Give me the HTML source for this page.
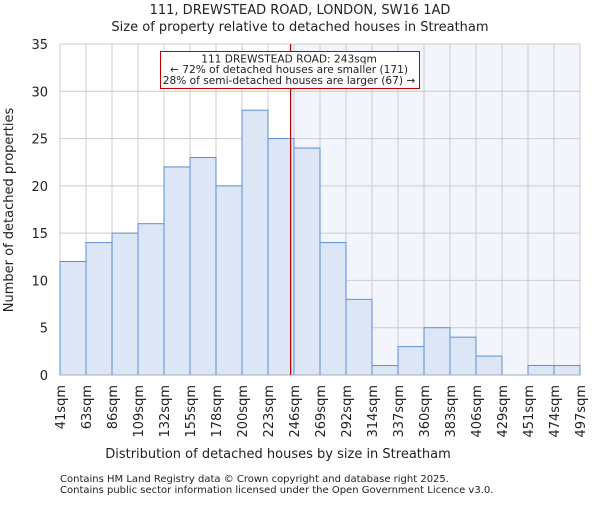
<!DOCTYPE html>
<html><head><meta charset="utf-8"><style>
body{margin:0;background:#fff;}
svg text{font-family:"DejaVu Sans","Liberation Sans",sans-serif;fill:#222;}
</style></head><body>
<svg id="chart" width="600" height="500">
<text x="300" y="14" text-anchor="middle" font-size="13">111, DREWSTEAD ROAD, LONDON, SW16 1AD</text>
<text x="300" y="31" text-anchor="middle" font-size="13">Size of property relative to detached houses in Streatham</text>
<g id="plot"></g>
<text x="278" y="458" text-anchor="middle" font-size="13">Distribution of detached houses by size in Streatham</text>
<text transform="translate(13,210) rotate(-90)" text-anchor="middle" font-size="13">Number of detached properties</text>
<text x="60" y="482" font-size="10" fill="#444">Contains HM Land Registry data © Crown copyright and database right 2025.</text>
<text x="60" y="493" font-size="10" fill="#444">Contains public sector information licensed under the Open Government Licence v3.0.</text>
</svg>
<script>
const labels=["41sqm","63sqm","86sqm","109sqm","132sqm","155sqm","178sqm","200sqm","223sqm","246sqm","269sqm","292sqm","314sqm","337sqm","360sqm","383sqm","406sqm","429sqm","451sqm","474sqm","497sqm"];
const counts=[12,14,15,16,22,23,20,28,25,24,14,8,1,3,5,4,2,0,1,1];
const yTicks=[0,5,10,15,20,25,30,35];
const propertyBin=8+20/23;
const L=60,R=580,T=44,B=375,ymax=35;
const bw=(R-L)/counts.length;
const xs=i=>L+i*bw;
const ys=v=>B-(v/ymax)*(B-T);
const g=document.getElementById('plot');
const NS="http://www.w3.org/2000/svg";
function mk(t,a){const e=document.createElementNS(NS,t);for(const k in a)e.setAttribute(k,a[k]);g.appendChild(e);return e;}
const px=xs(propertyBin);
let e=mk('rect',{x:px,y:T,width:R-px,height:B-T,fill:'#f2f5fc'});


for(const t of yTicks){
 e=mk('line',{x1:L,x2:R,y1:ys(t),y2:ys(t),stroke:'#ccc','stroke-width':1});
 
 
 e=mk('text',{x:L-12,y:ys(t)+5,'text-anchor':'end','font-size':13});
 e.textContent=t;
 
 
}
for(let i=0;i<labels.length;i++){
 e=mk('line',{x1:xs(i),x2:xs(i),y1:T,y2:B,stroke:'#ccc','stroke-width':1});
 
 
 const lx=xs(i)+5;
 e=mk('text',{transform:`translate(${lx},${B+10}) rotate(-90)`,'text-anchor':'end','font-size':13});
 e.textContent=labels[i];
 
 
}
counts.forEach((c,i)=>{
 if(c<=0)return;
 e=mk('rect',{x:xs(i),y:ys(c),width:bw,height:B-ys(c),fill:'#dde6f4',stroke:'#5b8fd6','stroke-width':1});
 
 
});
e=mk('line',{x1:L,x2:R,y1:B,y2:B,stroke:'#aab','stroke-width':1});


e=mk('line',{x1:px,x2:px,y1:T,y2:B,stroke:'#b00000','stroke-width':1.2});


e=mk('rect',{x:160.5,y:51.5,width:259,height:37,fill:'#fff',stroke:'#c00000','stroke-width':1});


const ann=["111 DREWSTEAD ROAD: 243sqm","← 72% of detached houses are smaller (171)","28% of semi-detached houses are larger (67) →"];
ann.forEach((s,i)=>{
 e=mk('text',{x:289,y:62.5+i*10.7,'text-anchor':'middle','font-size':10.6});
 e.textContent=s;
 
 
});
</script>
</body></html>
